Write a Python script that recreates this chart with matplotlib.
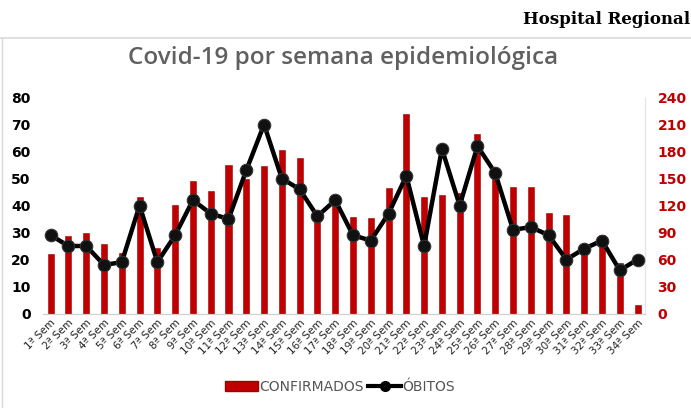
import matplotlib
matplotlib.use("Agg")
import matplotlib.pyplot as plt
from matplotlib.lines import Line2D
from matplotlib.patches import Patch

weeks = [f"{i}ª Sem" for i in range(1, 35)]
confirmados = [66, 86, 89, 77, 67, 130, 73, 121, 147, 136, 165, 149, 164, 182, 173, 107, 119,
               107, 106, 139, 222, 130, 132, 134, 199, 152, 141, 141, 112, 110, 75, 87, 56, 9]
obitos = [29, 25, 25, 18, 19, 40, 19, 29, 42, 37, 35, 53, 70, 50, 46, 36, 42,
          29, 27, 37, 51, 25, 61, 40, 62, 52, 31, 32, 29, 20, 24, 27, 16, 20]
left_ticks = [0, 10, 20, 30, 40, 50, 60, 70, 80]
right_ticks = [0, 30, 60, 90, 120, 150, 180, 210, 240]

RED = "#C00000"
W, H = 691, 408
fig = plt.figure(figsize=(W / 100, H / 100), dpi=100)

# frame lines
fig.add_artist(Line2D([0, 1], [1 - 38 / H, 1 - 38 / H], color="#d9d9d9", lw=1.2,
                      transform=fig.transFigure))
fig.add_artist(Line2D([2 / W, 2 / W], [0, 1 - 38 / H], color="#d9d9d9", lw=1.0,
                      transform=fig.transFigure))

fig.text(690 / W, 1 - 19 / H, "Hospital Regional", ha="right", va="center",
         fontsize=12, fontweight="bold", family="DejaVu Serif", color="black")
fig.text(343 / W, 1 - 58 / H, "Covid-19 por semana epidemiológica", ha="center", va="center",
         fontsize=17.5, fontweight=600, family="Open Sans", color="#606060")

ax = fig.add_axes([43 / W, 1 - 313.5 / H, (645 - 43) / W, (313.5 - 97.5) / H])
ax2 = ax.twinx()

x = list(range(len(weeks)))
ax2.bar(x, confirmados, width=0.34, color=RED, edgecolor="#a00000", linewidth=0.4, zorder=1)
ax2.set_ylim(0, 240)
ax2.set_yticks(right_ticks)
ax2.tick_params(axis="y", length=0, labelcolor=RED, labelsize=10, pad=9)
for lab in ax2.get_yticklabels():
    lab.set_fontweight("bold")

ax.set_zorder(ax2.get_zorder() + 1)
ax.patch.set_visible(False)
ax.plot(x, obitos, color="black", lw=3.2, marker="o", markersize=9,
        markerfacecolor="#111111", markeredgecolor="#333333", markeredgewidth=0.8, zorder=3)
ax.set_ylim(0, 80)
ax.set_yticks(left_ticks)
ax.set_xlim(-0.43, 33.42)
ax.set_xticks(x)
ax.set_xticklabels(weeks, rotation=45, ha="right", rotation_mode="anchor", fontsize=7.5,
                   color="#222222")
ax.tick_params(axis="x", length=0, pad=3)
ax.tick_params(axis="y", length=0, labelsize=10, pad=9)
for lab in ax.get_yticklabels():
    lab.set_fontweight("bold")

for a in (ax, ax2):
    for s in ("top", "left"):
        a.spines[s].set_visible(False)
    a.spines["right"].set_color("#e6e6e6")
    a.spines["bottom"].set_color("#d0d0d0")

handles = [Patch(facecolor=RED, edgecolor="#a00000"),
           Line2D([], [], color="black", lw=3, marker="o", markersize=7)]
fig.legend(handles, ["CONFIRMADOS", "ÓBITOS"], loc="center", bbox_to_anchor=(340 / W, 1 - 387 / H),
           ncol=2, frameon=False, fontsize=10, labelcolor="#555555", handlelength=2.4,
           handletextpad=0.1, columnspacing=0.3)

fig.savefig("out.png", dpi=100)
